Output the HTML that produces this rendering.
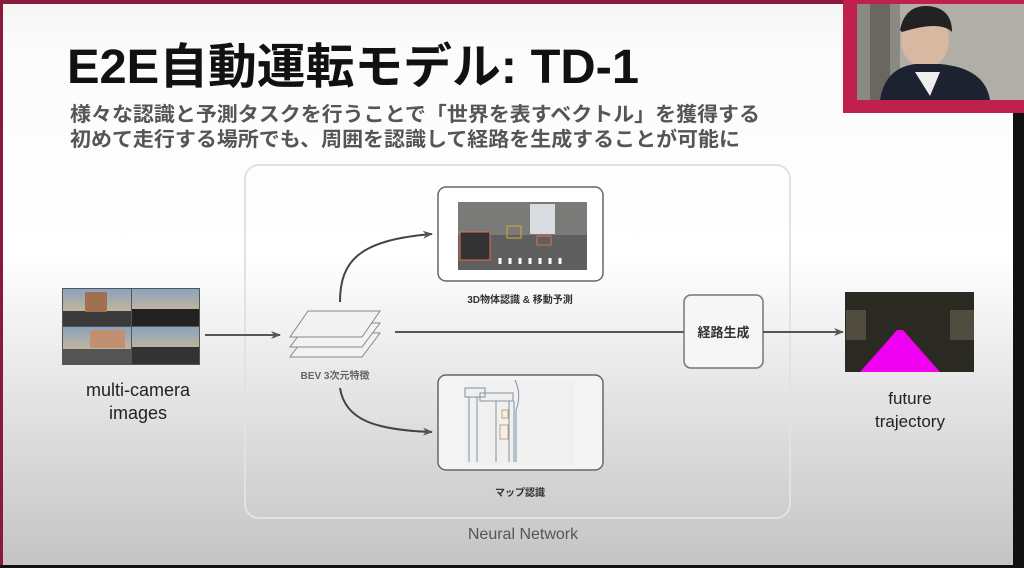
<!DOCTYPE html>
<html><head><meta charset="utf-8"><style>
html,body{margin:0;padding:0;width:1024px;height:568px;overflow:hidden;background:#000}
svg text{font-family:"Liberation Sans","Noto Sans CJK JP",sans-serif}
</style></head><body>
<svg width="1024" height="568" viewBox="0 0 1024 568" xmlns="http://www.w3.org/2000/svg">
<defs>
<linearGradient id="bg" x1="0" y1="0" x2="0" y2="1">
<stop offset="0" stop-color="#f4f4f4"/><stop offset="0.08" stop-color="#fbfbfb"/><stop offset="0.45" stop-color="#ffffff"/><stop offset="1" stop-color="#c4c4c4"/></linearGradient>
<linearGradient id="sky" x1="0" y1="0" x2="0" y2="1"><stop offset="0" stop-color="#8aa4c0"/><stop offset="1" stop-color="#e8c080"/></linearGradient>
<marker id="ah" markerWidth="10" markerHeight="10" refX="9" refY="5" orient="auto" markerUnits="userSpaceOnUse"><path d="M0,1 L10,5 L0,9 L3,5 Z" fill="#555"/></marker>
</defs>
<rect x="0" y="0" width="1024" height="568" fill="#111"/>
<rect x="0" y="0" width="1013" height="565" fill="url(#bg)"/>
<rect x="0" y="0" width="1024" height="4" fill="#8a1a3a"/>
<rect x="0" y="0" width="3" height="565" fill="#8a1a3a"/>
<!-- webcam -->
<rect x="843" y="0" width="181" height="113" fill="#c0204c"/>
<rect x="857" y="4" width="167" height="96" fill="#8a8a84"/>
<rect x="900" y="4" width="124" height="96" fill="#b0aea6"/>
<rect x="870" y="4" width="20" height="96" fill="#6a6660"/>
<ellipse cx="925" cy="40" rx="24" ry="28" fill="#d8b8a0"/>
<path d="M900,30 Q905,5 928,6 Q952,8 952,32 Q940,20 902,32Z" fill="#222"/>
<path d="M880,100 Q885,68 915,64 L940,64 Q985,68 990,100Z" fill="#1c2230"/>
<path d="M915,72 L940,72 L930,96 Z" fill="#eee"/>
<!-- title -->
<text x="67" y="83" font-size="48" font-weight="bold" fill="#111" textLength="572" lengthAdjust="spacingAndGlyphs">E2E自動運転モデル: TD-1</text>
<text x="70" y="121" font-size="20" font-weight="bold" fill="#555" textLength="690" lengthAdjust="spacingAndGlyphs">様々な認識と予測タスクを行うことで「世界を表すベクトル」を獲得する</text>
<text x="70" y="146" font-size="20" font-weight="bold" fill="#555" textLength="670" lengthAdjust="spacingAndGlyphs">初めて走行する場所でも、周囲を認識して経路を生成することが可能に</text>
<!-- NN container -->
<rect x="245" y="165" width="545" height="353" rx="14" fill="none" stroke="#e2e2e2" stroke-width="2"/>
<text x="523" y="539" font-size="16" fill="#555" text-anchor="middle">Neural Network</text>
<!-- cameras -->
<rect x="62" y="288" width="138" height="77" fill="#555"/>
<rect x="63" y="289" width="68" height="37" fill="url(#sky)"/>
<rect x="132" y="289" width="67" height="37" fill="url(#sky)"/>
<rect x="63" y="327" width="68" height="37" fill="url(#sky)"/>
<rect x="132" y="327" width="67" height="37" fill="url(#sky)"/>
<rect x="63" y="311" width="68" height="15" fill="#3a3a3a"/>
<rect x="132" y="309" width="67" height="17" fill="#222"/>
<rect x="63" y="349" width="68" height="15" fill="#555"/>
<rect x="132" y="347" width="67" height="17" fill="#333"/>
<rect x="85" y="292" width="22" height="20" fill="#a07050"/>
<rect x="90" y="330" width="35" height="18" fill="#c09070"/>
<text x="138" y="396" font-size="18" fill="#222" text-anchor="middle">multi-camera</text>
<text x="138" y="419" font-size="18" fill="#222" text-anchor="middle">images</text>
<line x1="205" y1="335" x2="280" y2="335" stroke="#555" stroke-width="2" marker-end="url(#ah)"/>
<!-- BEV layers -->
<g fill="#f2f2f2" stroke="#888" stroke-width="1">
<polygon points="308,333 380,333 362,357 290,357"/>
<polygon points="308,323 380,323 362,347 290,347"/>
<polygon points="308,311 380,311 362,337 290,337"/>
</g>
<text x="335" y="379" font-size="10" font-weight="bold" fill="#666" text-anchor="middle">BEV 3次元特徴</text>
<!-- curves -->
<path d="M340,302 C340,260 360,240 432,234" fill="none" stroke="#444" stroke-width="2" marker-end="url(#ah)"/>
<path d="M340,388 C345,420 375,430 432,432" fill="none" stroke="#444" stroke-width="2" marker-end="url(#ah)"/>
<line x1="395" y1="332" x2="684" y2="332" stroke="#555" stroke-width="2"/>
<!-- top card -->
<rect x="438" y="187" width="165" height="94" rx="8" fill="#fff" stroke="#666" stroke-width="1.5"/>
<rect x="458" y="202" width="129" height="68" fill="#7a7a78"/>
<rect x="530" y="204" width="25" height="30" fill="#d8dce0"/>
<rect x="458" y="235" width="129" height="35" fill="#5f5f5f"/>
<rect x="460" y="232" width="30" height="28" fill="#333" stroke="#e07050"/>
<rect x="537" y="236" width="14" height="9" fill="none" stroke="#e07040"/>
<rect x="507" y="226" width="14" height="12" fill="none" stroke="#d0b030"/>
<g stroke="#fff" stroke-width="3"><line x1="500" y1="264" x2="500" y2="258"/><line x1="510" y1="264" x2="510" y2="258"/><line x1="520" y1="264" x2="520" y2="258"/><line x1="530" y1="264" x2="530" y2="258"/><line x1="540" y1="264" x2="540" y2="258"/><line x1="550" y1="264" x2="550" y2="258"/><line x1="560" y1="264" x2="560" y2="258"/></g>
<text x="520" y="303" font-size="10" font-weight="bold" fill="#333" text-anchor="middle">3D物体認識 &amp; 移動予測</text>
<!-- bottom card -->
<rect x="438" y="375" width="165" height="95" rx="8" fill="#f4f4f4" stroke="#666" stroke-width="1.5"/>
<rect x="465" y="380" width="110" height="85" fill="#f0f0f0"/>
<g fill="none" stroke="#8090a0" stroke-width="1">
<rect x="465" y="388" width="20" height="9"/><rect x="480" y="393" width="33" height="8"/>
<line x1="469" y1="397" x2="469" y2="462"/><line x1="477" y1="397" x2="477" y2="462"/><line x1="496" y1="401" x2="496" y2="462"/><line x1="509" y1="401" x2="509" y2="462"/><line x1="514" y1="401" x2="514" y2="462"/>
<rect x="502" y="410" width="6" height="8" stroke="#d0a060"/><rect x="500" y="425" width="8" height="14" stroke="#d0a060"/>
<path d="M515,380 Q522,395 516,410 L516,462"/>
</g>
<text x="520" y="496" font-size="10" font-weight="bold" fill="#333" text-anchor="middle">マップ認識</text>
<!-- route gen -->
<rect x="684" y="295" width="79" height="73" rx="7" fill="#f6f6f6" stroke="#777" stroke-width="1.5"/>
<text x="723.5" y="337" font-size="13" font-weight="bold" fill="#333" text-anchor="middle">経路生成</text>
<line x1="763" y1="332" x2="843" y2="332" stroke="#555" stroke-width="2" marker-end="url(#ah)"/>
<!-- trajectory -->
<rect x="845" y="292" width="129" height="80" fill="#2a2a22"/>
<rect x="846" y="310" width="20" height="30" fill="#504c40"/>
<rect x="950" y="310" width="24" height="30" fill="#504c40"/>
<polygon points="897,330 903,330 940,372 860,372" fill="#f000f0"/>
<text x="910" y="404" font-size="17" fill="#222" text-anchor="middle">future</text>
<text x="910" y="427" font-size="17" fill="#222" text-anchor="middle">trajectory</text>
</svg>
</body></html>
